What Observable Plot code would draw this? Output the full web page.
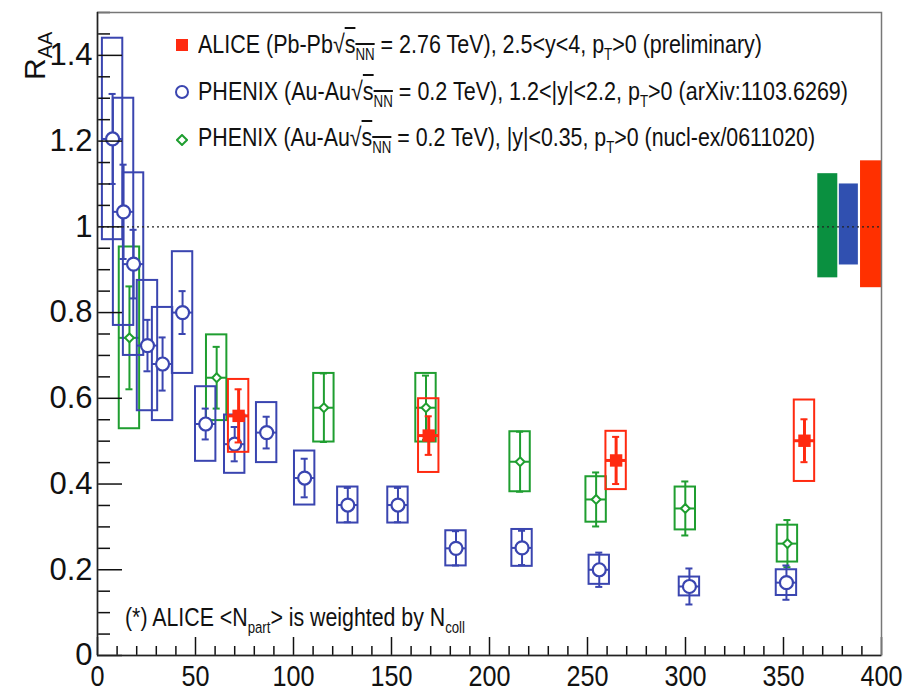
<!DOCTYPE html>
<html>
<head>
<meta charset="utf-8">
<script src="https://cdn.jsdelivr.net/npm/d3@7"></script>
<script src="https://cdn.jsdelivr.net/npm/@observablehq/plot@0.6"></script>
<style>
  body { margin: 0; background: #fff; font-family: "Liberation Sans", Arial, sans-serif; }
  #wrap { position: relative; width: 923px; height: 695px; overflow: hidden; }
  .lg { position: absolute; left: 198px; white-space: nowrap; color: #111; font-size: 26px; line-height: 1; transform-origin: 0 50%; }
  .lg sub { font-size: 62%; vertical-align: -0.45em; line-height: 0; }
  .ov { text-decoration: overline; }
  .sw { position: absolute; }
  #ytitle { position: absolute; left: 0; top: 0; white-space: nowrap; color: #111; font-size: 30px; line-height: 1;
            transform-origin: 0 0; }
  #ytitle sub { font-size: 20px; vertical-align: -0.35em; line-height: 0; }
</style>
</head>
<body>
<div id="wrap"></div>
<script>
// ---------- data ----------
// PHENIX forward (1.2<|y|<2.2), blue open circles
const blueNpart = [7.7, 13.3, 18.4, 25.5, 33.2, 43.4, 55.2, 70, 86.3, 105.7, 127.7, 153.3, 182.9, 216.6, 256, 302, 351.5];
const blueRaa   = [1.205, 1.035, 0.913, 0.723, 0.68, 0.80, 0.54, 0.493, 0.52, 0.414, 0.351, 0.351, 0.25, 0.251, 0.20, 0.161, 0.17];
const blueStat  = [0.105, 0.11, 0.08, 0.06, 0.062, 0.05, 0.036, 0.04, 0.037, 0.045, 0.04, 0.04, 0.04, 0.04, 0.04, 0.042, 0.04];
const blueSys   = [0.235, 0.265, 0.213, 0.152, 0.132, 0.142, 0.087, 0.068, 0.07, 0.063, 0.042, 0.042, 0.041, 0.043, 0.034, 0.022, 0.03];

// PHENIX mid-rapidity (|y|<0.35), green open diamonds
const greenNpart = [16.3, 60.8, 115.5, 167.6, 215.6, 254.4, 299.9, 352];
const greenRaa   = [0.741, 0.648, 0.578, 0.578, 0.452, 0.364, 0.343, 0.261];
const greenStat  = [0.12, 0.072, 0.08, 0.075, 0.07, 0.063, 0.063, 0.055];
const greenSys   = [0.212, 0.10, 0.08, 0.08, 0.07, 0.053, 0.05, 0.043];

// ALICE forward (2.5<y<4), red filled squares
const redNpart = [72, 169, 264.6, 360.7];
const redRaa   = [0.559, 0.513, 0.455, 0.501];
const redStat  = [0.062, 0.045, 0.055, 0.05];
const redSys   = [0.085, 0.086, 0.068, 0.095];

// global uncertainties (boxes at R_AA = 1)
const globalSeries = ["PHENIX mid", "PHENIX fwd", "ALICE"];
const globalX1   = [367.5, 378.5, 389.3];
const globalX2   = [377.7, 388.2, 400];
const globalLow  = [0.881, 0.911, 0.858];
const globalHigh = [1.124, 1.10, 1.154];

const xMajor = [0, 50, 100, 150, 200, 250, 300, 350, 400];
const xMinor = d3.range(0, 401, 10).filter(v => v % 50 !== 0);
const yMajor = [0, 0.2, 0.4, 0.6, 0.8, 1, 1.2, 1.4];
const yMinor = d3.range(0, 1.5001, 0.05).map(v => +v.toFixed(2)).filter(v => Math.abs(v * 5 - Math.round(v * 5)) > 1e-6);

// ---------- build tables ----------
const mk = (xs, ys, st, sy) => xs.map((x, i) => ({x, y: ys[i], stat: st[i], sys: sy[i]}));
const blue = mk(blueNpart, blueRaa, blueStat, blueSys);
const green = mk(greenNpart, greenRaa, greenStat, greenSys);
const red = mk(redNpart, redRaa, redStat, redSys);
const globals = globalSeries.map((s, i) => ({s, x1: globalX1[i], x2: globalX2[i], y1: globalLow[i], y2: globalHigh[i]}));

const C = {blue: "#3a45b0", green: "#1f9e30", red: "#ff2a10"};
const GC = {"PHENIX mid": "#0a9040", "PHENIX fwd": "#3050b0", "ALICE": "#ff3000"};
const HW = 5.2;   // half width of systematic boxes (N_part units)
const CAP = 1.8;  // half width of error-bar caps

function seriesMarks(data, color, sw, marker) {
  return [
    Plot.rect(data, {x1: d => d.x - HW, x2: d => d.x + HW, y1: d => d.y - d.sys, y2: d => d.y + d.sys,
                     fill: "none", stroke: color, strokeWidth: 2}),
    Plot.ruleX(data, {x: "x", y1: d => d.y - d.stat, y2: d => d.y + d.stat, stroke: color, strokeWidth: sw}),
    Plot.ruleY(data, {y: d => d.y + d.stat, x1: d => d.x - CAP, x2: d => d.x + CAP, stroke: color, strokeWidth: 2}),
    Plot.ruleY(data, {y: d => d.y - d.stat, x1: d => d.x - CAP, x2: d => d.x + CAP, stroke: color, strokeWidth: 2}),
    Plot.ruleY(data, {y: "y", x1: d => d.x - HW, x2: d => d.x + HW, stroke: color, strokeWidth: sw}),
    marker
  ];
}

const W = 923, H = 695, ML = 97, MR = 42, MT = 12, MB = 40;
const PW = W - ML - MR, PH = H - MT - MB;

const chart = Plot.plot({
  width: W, height: H,
  marginLeft: ML, marginRight: MR, marginTop: MT, marginBottom: MB,
  style: {fontFamily: "'Liberation Sans', Arial, sans-serif", background: "white", color: "#111"},
  x: {domain: [0, 400]},
  y: {domain: [0, 1.5]},
  marks: [
    Plot.rect(globals, {x1: "x1", x2: "x2", y1: "y1", y2: "y2", fill: d => GC[d.s]}),
    ...seriesMarks(green, C.green, 2, Plot.dot(green, {x: "x", y: "y", symbol: "diamond2", r: 4, stroke: C.green, fill: "white", strokeWidth: 2})),
    ...seriesMarks(blue, C.blue, 2, Plot.dot(blue, {x: "x", y: "y", symbol: "circle", r: 6.5, stroke: C.blue, fill: "white", strokeWidth: 2.2})),
    ...seriesMarks(red, C.red, 3, Plot.dot(red, {x: "x", y: "y", symbol: "square", r: 7, fill: C.red, stroke: "none"})),
    Plot.ruleY([1], {stroke: "#222", strokeDasharray: "2,3", strokeWidth: 1.3}),
    // inward ticks
    Plot.tickY(yMajor, {y: d => d, insetRight: PW - 25, stroke: "#111", strokeWidth: 1.5}),
    Plot.tickY(yMinor, {y: d => d, insetRight: PW - 13, stroke: "#111", strokeWidth: 1.5}),
    Plot.tickX(xMajor, {x: d => d, insetTop: PH - 18, stroke: "#111", strokeWidth: 1.5}),
    Plot.tickX(xMinor, {x: d => d, insetTop: PH - 9, stroke: "#111", strokeWidth: 1.5}),
    Plot.frame({stroke: "#777", strokeWidth: 1.5}),
    Plot.ruleX([0], {stroke: "#222", strokeWidth: 1.5}),
    Plot.ruleY([0], {stroke: "#222", strokeWidth: 1.5}),
    Plot.axisY(yMajor, {tickSize: 0, tickPadding: 5, fontSize: 31, label: null, tickFormat: d => String(d)}),
    Plot.axisX(xMajor, {tickSize: 0, tickPadding: 9, fontSize: 30, label: null, tickFormat: d => String(d)})
  ]
});

const wrap = document.getElementById("wrap");
wrap.appendChild(chart);

// condensed x tick labels
chart.querySelectorAll('g[aria-label="x-axis tick label"] text').forEach(t => {
  t.setAttribute("textLength", 14 * t.textContent.length);
  t.setAttribute("lengthAdjust", "spacingAndGlyphs");
});

// y-axis title R_AA (rotated, reading bottom to top)
const yt = document.createElement("div");
yt.id = "ytitle";
yt.innerHTML = "R<sub>AA</sub>";
wrap.appendChild(yt);
yt.style.transform = "translate(20px, 80px) rotate(-90deg)";

// legend
const legendRows = [
  {top: 45, target: 564, html: 'ALICE (Pb-Pb<span>√</span><span class="ov">s<sub>NN</sub></span> = 2.76 TeV), 2.5&lt;y&lt;4, p<sub>T</sub>&gt;0 (preliminary)',
   sw: '<svg width="14" height="14"><rect x="1" y="1" width="12" height="12" fill="' + C.red + '"/></svg>'},
  {top: 92, target: 650, html: 'PHENIX (Au-Au<span>√</span><span class="ov">s<sub>NN</sub></span> = 0.2 TeV), 1.2&lt;|y|&lt;2.2, p<sub>T</sub>&gt;0 (arXiv:1103.6269)',
   sw: '<svg width="16" height="16"><circle cx="8" cy="8" r="6" fill="white" stroke="' + C.blue + '" stroke-width="2"/></svg>'},
  {top: 138, target: 617, html: 'PHENIX (Au-Au<span>√</span><span class="ov">s<sub>NN</sub></span> = 0.2 TeV), |y|&lt;0.35, p<sub>T</sub>&gt;0 (nucl-ex/0611020)',
   sw: '<svg width="12" height="12"><path d="M6,1L11,6L6,11L1,6Z" fill="white" stroke="' + C.green + '" stroke-width="2"/></svg>'}
];
legendRows.forEach(r => {
  const d = document.createElement("div");
  d.className = "lg";
  d.innerHTML = r.html;
  d.style.top = (r.top - 14) + "px";
  wrap.appendChild(d);
  const w = d.getBoundingClientRect().width;
  d.style.transform = "scaleX(" + (r.target / w) + ")";
  const s = document.createElement("div");
  s.className = "sw";
  s.innerHTML = r.sw;
  wrap.appendChild(s);
  const b = s.firstChild;
  s.style.left = (182 - b.getAttribute("width") / 2) + "px";
  s.style.top = (r.top - b.getAttribute("height") / 2) + "px";
});

// note
const note = document.createElement("div");
note.className = "lg";
note.style.left = "125px";
note.style.top = "604px";
note.innerHTML = '(*) ALICE &lt;N<sub>part</sub>&gt; is weighted by N<sub>coll</sub>';
wrap.appendChild(note);
const nw = note.getBoundingClientRect().width;
note.style.transform = "scaleX(" + (340 / nw) + ")";
</script>
</body>
</html>
